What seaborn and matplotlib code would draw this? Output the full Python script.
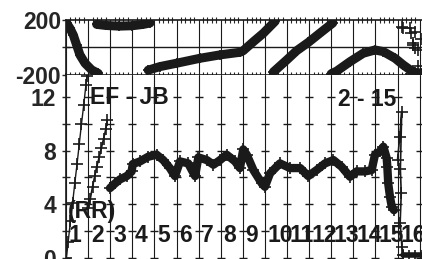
import numpy as np
import pandas as pd
import matplotlib
matplotlib.use("Agg")
import matplotlib.pyplot as plt
import matplotlib.transforms as mtrans
import seaborn as sns

# --- phase (deg); each list is one unwrapped piece
ph1_x = [1.00, 1.03, 1.18, 1.33, 1.48, 1.63, 1.86, 2.16, 2.46]
ph1_y = [195, 176, 139, 90, 17, -56, -117, -166, -192]
ph2_x = [2.39, 2.80, 3.40, 4.00, 4.50, 4.80]
ph2_y = [168, 160, 155, 158, 168, 178]
ph3_x = [4.72, 5.25, 6.01, 7.06, 7.97, 8.87, 9.02, 9.48, 9.93, 10.46]
ph3_y = [-168, -142, -117, -81, -56, -37, -25, 41, 103, 190]
ph4_x = [10.38, 10.99, 11.44, 11.96, 12.50, 13.07]
ph4_y = [-182, -93, -25, 35, 105, 178]
ph5_x = [13.00, 13.25, 13.85, 14.45, 14.98, 15.36, 15.89, 16.26, 16.57, 16.80, 17.10]
ph5_y = [-195, -175, -106, -44, -20, -32, -81, -130, -166, -185, -190]
# loose points at the right end
phs_x = [16.19, 16.24, 16.57, 16.61, 16.69, 16.72, 16.80, 16.80, 16.91, 16.60, 16.95, 17.05]
phs_y = [151, 140, 139, 103, 29, 17, 114, -7, -20, -195, -140, 60]

# --- amplitude
am1_x = [1.02, 1.10, 1.20, 1.30, 1.40, 1.50, 1.60, 1.70, 1.80, 1.90, 1.95]
am1_y = [0.0, 1.2, 2.7, 4.1, 5.6, 7.0, 8.5, 10.0, 11.4, 12.9, 13.6]
am2_x = [2.01, 2.10, 2.20, 2.30, 2.39, 2.50, 2.60, 2.70, 2.80, 2.87]
am2_y = [3.7, 4.4, 5.3, 6.1, 6.8, 7.5, 8.2, 8.9, 9.6, 10.3]
am3_x = [2.99, 3.22, 3.44, 3.75, 3.97, 4.02, 4.35, 4.72, 5.10, 5.40, 5.70, 5.93,
         6.16, 6.53, 6.84, 6.99, 7.37, 7.67, 7.97, 8.27, 8.65, 8.87, 9.02, 9.18,
         9.48, 9.86, 10.00, 10.23, 10.68, 11.14, 11.60, 11.96, 12.34, 12.72, 13.10,
         13.47, 13.85, 14.15, 14.53, 14.83, 14.98, 15.21, 15.36, 15.51, 15.54, 15.58,
         15.66, 15.74, 15.84]
am3_y = [5.2, 5.55, 5.85, 6.1, 6.45, 7.0, 7.2, 7.55, 7.7, 7.3, 6.7, 6.1,
         7.2, 7.05, 6.1, 7.5, 7.3, 6.95, 7.3, 7.7, 7.2, 6.7, 8.1, 7.7,
         6.55, 5.55, 5.3, 6.3, 7.05, 6.7, 6.7, 6.1, 6.55, 7.05, 7.3,
         6.8, 6.05, 6.45, 6.45, 6.55, 7.7, 7.95, 8.3, 7.45, 6.8, 5.55,
         4.55, 3.8, 3.55]
am4_x = [16.00, 16.10, 16.19, 16.13, 16.17, 16.12, 16.20, 16.27]
am4_y = [7.3, 9.0, 10.9, 6.6, 4.8, 2.6, 0.8, 0.2]
am5_x = [16.27, 16.50, 16.80, 17.10]
am5_y = [0.18, 0.18, 0.18, 0.18]

x_ticks = list(range(1, 18))
amp_labels = [0, 4, 8, 12]
baseline = "EF - JB"
scan = "2 - 15"
pol = "(RR)"

sns.set_theme(style="white")
plt.rcParams["font.family"] = ["Liberation Sans", "DejaVu Sans"]
plt.rcParams["font.weight"] = "bold"
FS = 16.5

W, H = 422, 259
fig = plt.figure(figsize=(W / 100, H / 100), dpi=100)
left, right = 66, 422
mid = 74.5
ax_ph = fig.add_axes([left / W, 1 - mid / H, (right - left) / W, (mid - 20) / H])
ax_am = fig.add_axes([left / W, 0, (right - left) / W, (H - mid) / H])

xlim = (1, 1 + (right - left) / 22.1)


def draw(ax, xs, ys, lw, ms=7):
    sns.lineplot(x=xs, y=ys, ax=ax, color="k", lw=lw, marker="+", ms=ms,
                 mew=1.2, mec="k", estimator=None, sort=False)


for xs, ys in [(ph1_x, ph1_y), (ph2_x, ph2_y), (ph3_x, ph3_y),
               (ph4_x, ph4_y), (ph5_x, ph5_y)]:
    draw(ax_ph, xs, ys, 6.5)
sns.scatterplot(x=phs_x, y=phs_y, ax=ax_ph, marker="+", color="k", s=70, linewidth=1.2)

draw(ax_am, am1_x, am1_y, 1.0, ms=8)
draw(ax_am, am2_x, am2_y, 1.2, ms=8)
draw(ax_am, am3_x, am3_y, 6.0, ms=9)
draw(ax_am, am4_x, am4_y, 1.2, ms=8)
draw(ax_am, am5_x, am5_y, 4.0)

for ax in (ax_ph, ax_am):
    ax.set_xlim(*xlim)
    ax.set_xticks(x_ticks)
    ax.set_xticklabels([])
    ax.grid(axis="x", color="k", lw=0.8)
    ax.grid(axis="y", visible=False)
    ax.spines["right"].set_visible(False)
    for s in ax.spines.values():
        s.set_color("k")
        s.set_linewidth(1.2)
    ax.set_axisbelow(True)

# top panel
ax_ph.set_ylim(-200, 200)
ax_ph.axhline(0, color="k", lw=1.0, zorder=1)
ax_ph.set_yticks([-200, 0, 200])
ax_ph.set_yticklabels(["-200", "", "200"], fontsize=FS, fontweight="bold")
ax_ph.tick_params(axis="y", direction="inout", length=6, width=1, pad=0.5, left=True)
ax_ph.set_xticks(np.arange(1, 17.2, 0.2), minor=True)
ax_ph.tick_params(axis="x", which="major", length=0, bottom=False, top=False)
ax_ph.tick_params(axis="x", which="minor", direction="inout", length=4, width=0.8,
                  bottom=True, top=True)

# bottom panel
ax_am.set_ylim(-0.11, (257.5 - mid) / 13.35)
ax_am.spines["bottom"].set_visible(False)
ax_am.spines["top"].set_visible(False)
ax_am.set_yticks(range(0, 13, 2))
ax_am.set_yticklabels([str(v) if v in amp_labels else "" for v in range(0, 13, 2)],
                      fontsize=FS, fontweight="bold")
ax_am.tick_params(axis="y", direction="inout", length=6, width=1, pad=4, left=True)
ax_am.tick_params(axis="x", length=0)

gx, gy = np.meshgrid(x_ticks[1:], range(0, 13, 2))
ax_am.scatter(gx.ravel(), gy.ravel(), marker="_", s=30, color="k", linewidths=1, zorder=1)

off = mtrans.offset_copy(ax_am.get_xaxis_transform(), fig=fig, x=2, y=0, units="points")
for t in x_ticks[:-1]:
    ax_am.text(t, 0.125, str(t), transform=off, ha="left", va="center",
               fontsize=FS, fontweight="bold", color="k")

ax_am.text(0.067, 0.873, baseline, transform=ax_am.transAxes, ha="left", va="center",
           fontsize=FS, fontweight="bold", color="k")
ax_am.text(0.763, 0.867, scan, transform=ax_am.transAxes, ha="left", va="center",
           fontsize=FS, fontweight="bold", color="k")
ax_am.text(0.004, 0.255, pol, transform=ax_am.transAxes, ha="left", va="center",
           fontsize=FS, fontweight="bold", color="k")

fig.savefig("out.png", dpi=100)
